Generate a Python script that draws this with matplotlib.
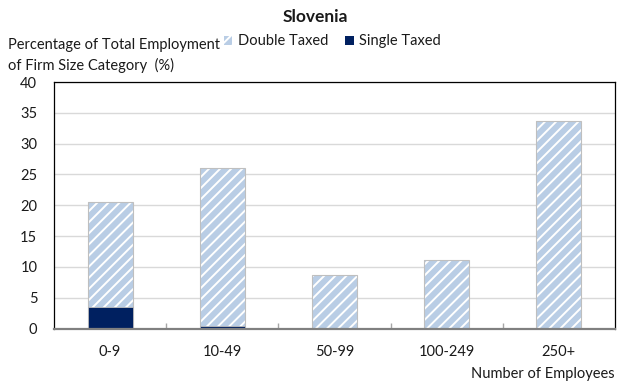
import matplotlib
matplotlib.use("Agg")
import matplotlib.pyplot as plt
from matplotlib.patches import Patch

categories = ["0-9", "10-49", "50-99", "100-249", "250+"]
double_taxed = [20.5, 26.0, 8.7, 11.1, 33.7]
single_taxed = [3.5, 0.4, 0.0, 0.0, 0.0]
y_ticks = [0, 5, 10, 15, 20, 25, 30, 35, 40]

plt.rcParams["font.family"] = ["Lato", "DejaVu Sans"]
plt.rcParams["hatch.linewidth"] = 1.4
plt.rcParams["hatch.color"] = "white"

light_blue = "#B9CDE5"
navy = "#002060"
text_color = "#1a1a1a"

fig = plt.figure(figsize=(6.19, 3.87), dpi=100)
ax = fig.add_axes([0.0872, 0.151, 0.9063, 0.637])

x = list(range(len(categories)))
width = 0.4

# hatched fill for the double-taxed share, then a thin grey outline on top
ax.bar(x, double_taxed, width=width, color=light_blue, edgecolor="white",
       hatch="///", linewidth=0, zorder=3)
ax.bar(x, double_taxed, width=width, fill=False, edgecolor="#BFBFBF",
       linewidth=0.8, zorder=4)
ax.bar(x, single_taxed, width=width, color=navy, edgecolor="#BFBFBF",
       linewidth=0.6, zorder=5)

ax.set_xlim(-0.5, len(categories) - 0.5)
ax.set_ylim(0, 40)
ax.set_yticks(y_ticks)
ax.set_yticklabels([str(t) for t in y_ticks], fontsize=10.5, color=text_color)
ax.set_xticks(x)
ax.set_xticklabels(categories, fontsize=10.5, color=text_color)
ax.tick_params(axis="y", length=0, pad=12)
ax.tick_params(axis="x", length=0, pad=12)

# small category-boundary ticks on the baseline
ax.set_xticks([i + 0.5 for i in range(len(categories) - 1)], minor=True)
ax.tick_params(axis="x", which="minor", direction="in", length=4,
               color="#A6A6A6", width=1)

ax.grid(axis="y", color="#D9D9D9", linewidth=1, zorder=0)
ax.set_axisbelow(True)

for side in ("left", "top", "right"):
    ax.spines[side].set_color("black")
    ax.spines[side].set_linewidth(0.9)
ax.spines["bottom"].set_color("#808080")
ax.spines["bottom"].set_linewidth(1.6)
ax.spines["bottom"].set_zorder(6)

fig.text(0.51, 0.955, "Slovenia", ha="center", va="center",
         fontsize=12.5, fontweight="bold", color=text_color)
fig.text(0.013, 0.885, "Percentage of Total Employment", ha="left",
         va="center", fontsize=10.5, color=text_color)
fig.text(0.013, 0.83, "of Firm Size Category  (%)", ha="left",
         va="center", fontsize=10.5, color=text_color)
fig.text(0.993, 0.033, "Number of Employees", ha="right", va="center",
         fontsize=10.5, color=text_color)

handles = [
    Patch(facecolor=light_blue, edgecolor="white", hatch="///",
          linewidth=0, label="Double Taxed"),
    Patch(facecolor=navy, edgecolor="none", label="Single Taxed"),
]
fig.legend(handles=handles, loc="center left", bbox_to_anchor=(0.345, 0.893),
           ncol=2, frameon=False, fontsize=10.5, handlelength=0.55,
           handleheight=0.55, handletextpad=0.4, columnspacing=1.2,
           borderpad=0.2, labelcolor=text_color)

fig.savefig("out.png", dpi=100)
